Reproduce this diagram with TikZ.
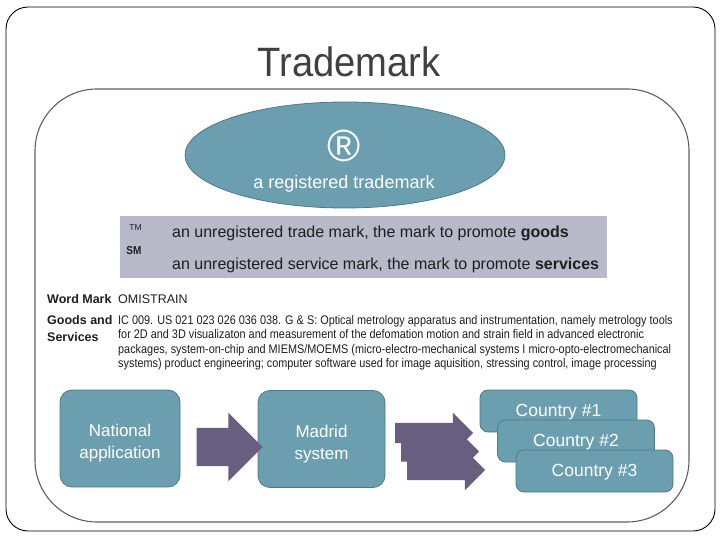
\documentclass[tikz,border=0pt]{standalone}
\usepackage{fontspec}
\setmainfont{Liberation Sans}
\newfontfamily\narrowfont[FakeStretch=0.87]{Liberation Sans}
\newfontfamily\titlefont[FakeStretch=0.93]{Liberation Sans}
\usetikzlibrary{shapes.geometric,shapes.arrows}
\definecolor{tmteal}{RGB}{107,159,175}
\definecolor{tmtealdark}{RGB}{76,122,138}
\definecolor{tmplum}{RGB}{104,94,128}
\definecolor{tmlilac}{RGB}{186,185,201}
\definecolor{tmtext}{RGB}{30,30,30}
\definecolor{tmtitle}{RGB}{64,64,64}
\definecolor{tmframe}{RGB}{95,95,95}

\begin{document}
\begin{tikzpicture}[
    x=1pt, y=-1pt,
    line join=round,
    outframe/.style={black, line width=0.9pt, rounded corners=22pt},
    inframe/.style={tmframe, line width=1.1pt, rounded corners=62pt},
    regmark/.style={ellipse, fill=tmteal, draw=tmtealdark, line width=0.8pt,
                    minimum width=320pt, minimum height=106pt, inner sep=0pt},
    band/.style={rectangle, fill=tmlilac, inner sep=0pt,
                 minimum width=487pt, minimum height=62pt},
    stepbox/.style={rectangle, rounded corners=12pt, fill=tmteal, draw=tmtealdark,
                    line width=0.8pt, minimum height=97pt, inner sep=0pt,
                    align=center, text=white, font=\fontsize{17}{22}\selectfont},
    cbox/.style={rectangle, rounded corners=8pt, fill=tmteal, draw=tmtealdark,
                 line width=0.8pt, minimum width=157pt, minimum height=42pt,
                 inner sep=0pt, text=white, font=\fontsize{17.5}{20}\selectfont},
    bigarr/.style={single arrow, fill=tmplum, inner xsep=0pt, inner ysep=19pt,
                   single arrow head extend=15pt, minimum height=66pt},
    smallarr/.style={single arrow, fill=tmplum, inner xsep=0pt, inner ysep=10pt,
                     single arrow head extend=10pt, minimum height=78pt},
    lbl/.style={tmtext, inner sep=0pt, anchor=base west, font=\fontsize{16}{18}\selectfont},
    wmlbl/.style={tmtext, inner sep=0pt, anchor=base west, font=\bfseries\fontsize{12.5}{14}\selectfont},
    wmtxt/.style={tmtext, inner sep=0pt, anchor=base west, font=\narrowfont\fontsize{12.5}{14}\selectfont},
  ]

  \useasboundingbox (0,0) rectangle (720,540);

  % ---- frames -----------------------------------------------
  \draw[outframe] (6,7) rectangle (715,531);
  \draw[inframe]  (35,89) rectangle (689,522);

  \node[tmtitle, font=\titlefont\fontsize{41}{48}\selectfont] (title) at (349,62) {Trademark};

  % ---- registered mark --------------------------------------
  \node[regmark] (reg) at (345,155) {};
  \node[text=white, inner sep=0pt, font=\fontsize{45}{50}\selectfont] (regsym) at (344.5,145.5) {®};
  \node[text=white, inner sep=0pt, anchor=base, font=\fontsize{18}{20}\selectfont] (regtxt) at (344,189) {a registered trademark};

  % ---- unregistered marks -----------------------------------
  \node[band] (unreg) at (363.5,247) {};
  \node[tmtext, inner sep=0pt, font=\fontsize{8.5}{10}\selectfont] (tm) at (135.5,228) {TM};
  \node[tmtext, inner sep=0pt, font=\narrowfont\bfseries\fontsize{11.5}{12}\selectfont] (sm) at (134,251) {SM};
  \node[lbl] (tmtxt) at (172,237) {an unregistered trade mark, the mark to promote \textbf{goods}};
  \node[lbl] (smtxt) at (172,269) {an unregistered service mark, the mark to promote \textbf{services}};

  % ---- word mark record -------------------------------------
  \node[wmlbl] (wm)   at (47,303)   {Word Mark};
  \node[wmtxt, font=\fontsize{12.5}{14}\selectfont] (wmv) at (118,303) {OMISTRAIN};
  \node[wmlbl] (gs1)  at (47,324.5) {Goods and};
  \node[wmlbl] (gs2)  at (47,341.5) {Services};
  \node[wmtxt] (gsa)  at (118,324)  {IC 009. US 021 023 026 036 038. G \& S: Optical metrology apparatus and instrumentation, namely metrology tools};
  \node[wmtxt] (gsb)  at (118,338.5){for 2D and 3D visualizaton and measurement of the defomation motion and strain field in advanced electronic};
  \node[wmtxt] (gsc)  at (118,353)  {packages, system-on-chip and MIEMS/MOEMS (micro-electro-mechanical systems I micro-opto-electromechanical};
  \node[wmtxt] (gsd)  at (118,367.5){systems) product engineering; computer software used for image aquisition, stressing control, image processing};

  % ---- filing route -----------------------------------------
  \node[stepbox, minimum width=120pt] (nat) at (120,438.5) {\rule{0pt}{22pt}National\\application};
  \node[stepbox, minimum width=127pt] (mad) at (321.5,439) {\rule{0pt}{22pt}Madrid\\system};
  \node[bigarr] (a1) at (220,447) {};

  \node[smallarr] (a2) at (429,433)   {};
  \node[smallarr] (a3) at (435,451.5) {};
  \node[smallarr] (a4) at (441,470)   {};

  \node[cbox] (c1) at (558.5,411) {\rule{0pt}{15pt}Country \#1};
  \node[cbox] (c2) at (576,441)   {\rule{0pt}{15pt}Country \#2};
  \node[cbox] (c3) at (594.5,471) {\rule{0pt}{15pt}Country \#3};

\end{tikzpicture}
\end{document}
